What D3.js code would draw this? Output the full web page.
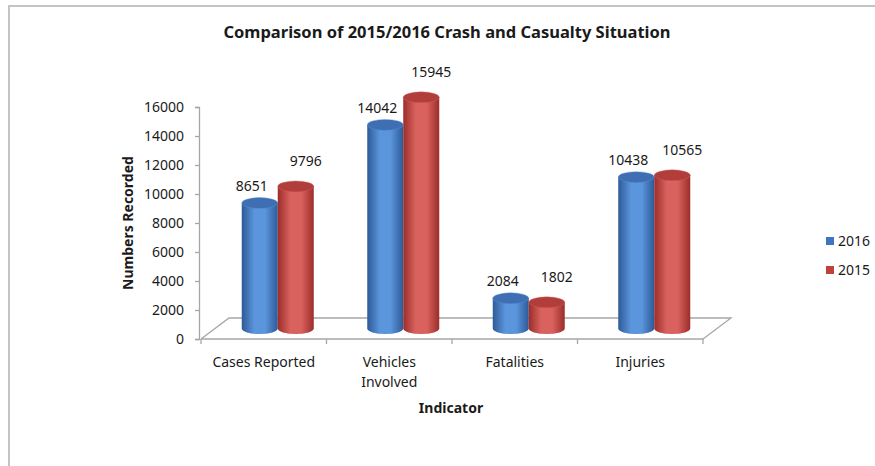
<!DOCTYPE html>
<html>
<head>
<meta charset="utf-8">
<script src="https://cdn.jsdelivr.net/npm/d3@7"></script>
<style>
  body { margin: 0; background: #fff; }
  text { font-family: "Noto Sans", "Open Sans", sans-serif; fill: #1a1a1a; }
</style>
</head>
<body>
<div id="chart"></div>
<script>
// data
var categories = ["Cases Reported", "Vehicles Involved", "Fatalities", "Injuries"];
var categoryLines = [["Cases Reported"], ["Vehicles", "Involved"], ["Fatalities"], ["Injuries"]];
var seriesNames = ["2016", "2015"];
var values2016 = [8651, 14042, 2084, 10438];
var values2015 = [9796, 15945, 1802, 10565];
var yTicks = [0, 2000, 4000, 6000, 8000, 10000, 12000, 14000, 16000];

var svgWidth = 875;
var svgHeight = 466;

var svg = d3.select("#chart")
  .append("svg")
  .attr("width", svgWidth)
  .attr("height", svgHeight);

// frame
svg.append("path")
  .attr("d", "M9,466 L9,6 L875,6")
  .attr("fill", "none")
  .attr("stroke", "#c4c4c4")
  .attr("stroke-width", 2);

// 3D depth offset of the floor
var depth = { dx: 28, dy: -21 };

var x = d3.scaleBand().domain(categories).range([201, 703]);
var groupWidth = 72;
var xs = d3.scaleBand().domain(seriesNames).range([0, groupWidth]);
var y = d3.scaleLinear().domain([0, 16000]).range([339, 107]);

var colors = {
  "2016": { dark: "#2d5a97", mid: "#5b95dc", top: "#3f6fb2", legend: "#3f74c0" },
  "2015": { dark: "#9b2d2a", mid: "#da625e", top: "#b13e3a", legend: "#c0403c" }
};

var defs = svg.append("defs");
seriesNames.forEach(function(s) {
  var g = defs.append("linearGradient")
    .attr("id", "grad" + s)
    .attr("x1", "0%").attr("x2", "100%").attr("y1", "0%").attr("y2", "0%");
  g.append("stop").attr("offset", "0%").attr("stop-color", colors[s].dark);
  g.append("stop").attr("offset", "35%").attr("stop-color", colors[s].mid);
  g.append("stop").attr("offset", "65%").attr("stop-color", colors[s].mid);
  g.append("stop").attr("offset", "100%").attr("stop-color", colors[s].dark);
});

// floor
var x0 = x.range()[0], x1 = x.range()[1], y0 = y(0);
svg.append("path")
  .attr("d", "M" + x0 + "," + y0 +
    " L" + (x0 + depth.dx) + "," + (y0 + depth.dy) +
    " L" + (x1 + depth.dx) + "," + (y0 + depth.dy) +
    " L" + x1 + "," + y0)
  .attr("fill", "none")
  .attr("stroke", "#a6a6a6")
  .attr("stroke-width", 1.3);

// y axis
var yAxis = svg.append("g")
  .attr("transform", "translate(199,0)")
  .call(d3.axisLeft(y).tickValues(yTicks).tickSize(4).tickPadding(11).tickFormat(d3.format("d")));
yAxis.selectAll("path, line").attr("stroke", "#a6a6a6").attr("stroke-width", 1.3);
yAxis.selectAll("text")
  .style("font-family", "'Noto Sans', sans-serif")
  .style("font-size", "14px")
  .attr("fill", "#1a1a1a");

// x axis front edge with ticks on the category boundaries
svg.append("line")
  .attr("x1", x0).attr("x2", x1)
  .attr("y1", y0).attr("y2", y0)
  .attr("stroke", "#a6a6a6").attr("stroke-width", 1.3);
var boundaries = categories.map(function(c) { return x(c); }).concat([x1]);
svg.selectAll(".xtick")
  .data(boundaries)
  .enter()
  .append("line")
  .attr("x1", d => d).attr("x2", d => d)
  .attr("y1", y0).attr("y2", y0 + 5)
  .attr("stroke", "#a6a6a6").attr("stroke-width", 1.3);

// category labels
var catLabels = svg.selectAll(".cat")
  .data(categories)
  .enter()
  .append("text")
  .attr("text-anchor", "middle")
  .attr("font-size", "14px")
  .attr("y", 367);
catLabels.each(function(c, i) {
  var t = d3.select(this);
  categoryLines[i].forEach(function(line, j) {
    t.append("tspan")
      .attr("x", x(c) + x.bandwidth() / 2)
      .attr("dy", j === 0 ? 0 : 20)
      .text(line);
  });
});

// bars as cylinders, placed half way into the depth
var rows = [];
categories.forEach(function(c, i) {
  rows.push({ cat: c, series: "2016", value: values2016[i] });
  rows.push({ cat: c, series: "2015", value: values2015[i] });
});
var barW = xs.bandwidth();
var ry = 5.5;
function barLeft(d) {
  return x(d.cat) + (x.bandwidth() - groupWidth) / 2 + xs(d.series) + depth.dx / 2;
}
function barTop(d) { return y(d.value) + depth.dy / 2; }
var base = y(0) + depth.dy / 2;

var bars = svg.selectAll(".bar")
  .data(rows)
  .enter()
  .append("g")
  .attr("class", "bar");
bars.append("path")
  .attr("d", function(d) {
    var l = barLeft(d), r = l + barW, t = barTop(d);
    return "M" + l + "," + t + " L" + l + "," + base +
      " A" + (barW / 2) + "," + ry + " 0 0 0 " + r + "," + base +
      " L" + r + "," + t + " Z";
  })
  .attr("fill", d => "url(#grad" + d.series + ")");
bars.append("ellipse")
  .attr("cx", d => barLeft(d) + barW / 2)
  .attr("cy", d => barTop(d))
  .attr("rx", barW / 2)
  .attr("ry", ry)
  .attr("fill", d => colors[d.series].top)
  .attr("stroke", d => colors[d.series].mid)
  .attr("stroke-opacity", 0.5)
  .attr("stroke-width", 0.8);

// value labels
var labelOffset = { "2016": { dx: -8, dy: -12 }, "2015": { dx: 10, dy: -20 } };
svg.selectAll(".vlabel")
  .data(rows)
  .enter()
  .append("text")
  .attr("text-anchor", "middle")
  .attr("font-size", "14px")
  .attr("x", d => barLeft(d) + barW / 2 + labelOffset[d.series].dx)
  .attr("y", d => barTop(d) + labelOffset[d.series].dy)
  .text(d => d.value);

// title and axis titles
svg.append("text")
  .attr("x", 447).attr("y", 38)
  .attr("text-anchor", "middle")
  .attr("font-size", "16.5px")
  .attr("font-weight", "bold")
  .text("Comparison of 2015/2016 Crash and Casualty Situation");
svg.append("text")
  .attr("x", 451).attr("y", 413)
  .attr("text-anchor", "middle")
  .attr("font-size", "14px")
  .attr("font-weight", "bold")
  .text("Indicator");
svg.append("text")
  .attr("transform", "translate(133,223) rotate(-90)")
  .attr("text-anchor", "middle")
  .attr("font-size", "14px")
  .attr("font-weight", "bold")
  .text("Numbers Recorded");

// legend
var legend = svg.selectAll(".legend")
  .data(seriesNames)
  .enter()
  .append("g")
  .attr("transform", (d, i) => "translate(826," + (241 + i * 29) + ")");
legend.append("rect")
  .attr("x", 0).attr("y", -4)
  .attr("width", 8).attr("height", 8)
  .attr("fill", d => colors[d].legend);
legend.append("text")
  .attr("x", 12).attr("y", 5)
  .attr("font-size", "14px")
  .text(d => d);
</script>
</body>
</html>
